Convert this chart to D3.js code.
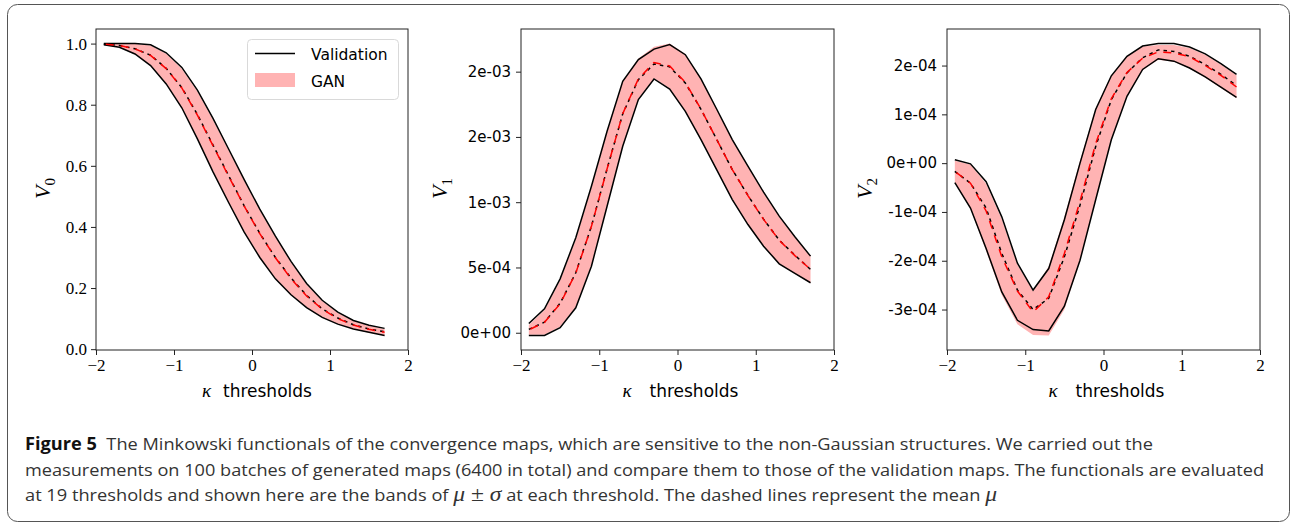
<!DOCTYPE html>
<html>
<head>
<meta charset="utf-8">
<script src="https://cdn.jsdelivr.net/npm/d3@7"></script>
<style>
  body { margin: 0; background: #fff; }
</style>
</head>
<body>
<div id="chart"></div>
<script>
// 19 kappa thresholds
var thresholds = [-1.9, -1.7, -1.5, -1.3, -1.1, -0.9, -0.7, -0.5, -0.3, -0.1, 0.1, 0.3, 0.5, 0.7, 0.9, 1.1, 1.3, 1.5, 1.7];

// V0 (area)
var v0_val_upper = [1.000, 1.000, 1.000, 0.996, 0.970, 0.922, 0.848, 0.755, 0.655, 0.555, 0.458, 0.370, 0.287, 0.215, 0.160, 0.121, 0.094, 0.078, 0.068];
var v0_val_lower = [0.996, 0.988, 0.966, 0.928, 0.868, 0.790, 0.688, 0.580, 0.480, 0.383, 0.300, 0.230, 0.178, 0.136, 0.104, 0.082, 0.066, 0.055, 0.045];
var v0_val_mean  = [0.998, 0.994, 0.983, 0.962, 0.919, 0.856, 0.768, 0.668, 0.568, 0.469, 0.379, 0.300, 0.233, 0.176, 0.132, 0.102, 0.080, 0.066, 0.057];
var v0_gan_upper = [1.000, 1.000, 0.999, 0.994, 0.967, 0.918, 0.843, 0.750, 0.651, 0.552, 0.455, 0.368, 0.284, 0.212, 0.158, 0.119, 0.092, 0.076, 0.066];
var v0_gan_lower = [0.997, 0.989, 0.967, 0.929, 0.870, 0.792, 0.690, 0.583, 0.482, 0.385, 0.302, 0.231, 0.178, 0.136, 0.104, 0.082, 0.066, 0.054, 0.045];
var v0_gan_mean  = [0.998, 0.994, 0.983, 0.961, 0.918, 0.855, 0.766, 0.666, 0.566, 0.468, 0.378, 0.299, 0.231, 0.174, 0.131, 0.100, 0.079, 0.065, 0.055];

// V1 (perimeter)
var v1_val_upper = [0.0000714, 0.000184, 0.000413, 0.000727, 0.001122, 0.001543, 0.001926, 0.002092, 0.002173, 0.002207, 0.002130, 0.001944, 0.001714, 0.001480, 0.001276, 0.001077, 0.000893, 0.000735, 0.000587];
var v1_val_lower = [-0.0000204, -0.0000204, 0.0000383, 0.000191, 0.000510, 0.000969, 0.001429, 0.001786, 0.001944, 0.001867, 0.001696, 0.001480, 0.001250, 0.001020, 0.000829, 0.000663, 0.000528, 0.000454, 0.000383];
var v1_val_mean  = [0.0000255, 0.0000816, 0.000226, 0.000459, 0.000816, 0.001256, 0.001677, 0.001939, 0.002059, 0.002037, 0.001913, 0.001712, 0.001482, 0.001250, 0.001052, 0.000870, 0.000710, 0.000594, 0.000485];
var v1_gan_upper = [0.0000600, 0.000175, 0.000400, 0.000715, 0.001110, 0.001535, 0.001925, 0.002100, 0.002190, 0.002215, 0.002135, 0.001945, 0.001712, 0.001478, 0.001272, 0.001072, 0.000888, 0.000730, 0.000590];
var v1_gan_lower = [-0.0000150, -0.0000150, 0.0000450, 0.000200, 0.000520, 0.000975, 0.001432, 0.001790, 0.001950, 0.001872, 0.001700, 0.001482, 0.001252, 0.001022, 0.000830, 0.000663, 0.000527, 0.000452, 0.000380];
var v1_gan_mean  = [0.0000220, 0.0000800, 0.000222, 0.000457, 0.000815, 0.001255, 0.001678, 0.001945, 0.002070, 0.002043, 0.001918, 0.001713, 0.001482, 0.001250, 0.001051, 0.000868, 0.000708, 0.000591, 0.000485];

// V2 (genus)
var v2_val_upper = [0.0000068, -0.0000014, -0.0000380, -0.000110, -0.000205, -0.000260, -0.000216, -0.000116, 0.0000000, 0.000110, 0.000179, 0.000219, 0.000240, 0.000245, 0.000245, 0.000238, 0.000224, 0.000204, 0.000182];
var v2_val_lower = [-0.0000397, -0.0000920, -0.000175, -0.000264, -0.000322, -0.000341, -0.000344, -0.000293, -0.000199, -0.0000750, 0.0000480, 0.000137, 0.000192, 0.000214, 0.000209, 0.000195, 0.000177, 0.000156, 0.000135];
var v2_val_mean  = [-0.0000170, -0.0000410, -0.0000920, -0.000185, -0.000260, -0.000300, -0.000277, -0.000192, -0.0000860, 0.0000340, 0.000130, 0.000185, 0.000216, 0.000232, 0.000229, 0.000219, 0.000202, 0.000182, 0.000159];
var v2_gan_upper = [0.0000050, -0.0000030, -0.0000420, -0.000115, -0.000208, -0.000262, -0.000212, -0.000110, 0.0000050, 0.000112, 0.000180, 0.000219, 0.000239, 0.000242, 0.000242, 0.000236, 0.000222, 0.000202, 0.000180];
var v2_gan_lower = [-0.0000400, -0.0000930, -0.000180, -0.000270, -0.000330, -0.000352, -0.000353, -0.000300, -0.000200, -0.0000740, 0.0000490, 0.000138, 0.000191, 0.000212, 0.000208, 0.000194, 0.000175, 0.000154, 0.000133];
var v2_gan_mean  = [-0.0000170, -0.0000410, -0.0000980, -0.000192, -0.000262, -0.000305, -0.000274, -0.000185, -0.0000780, 0.0000400, 0.000132, 0.000186, 0.000215, 0.000228, 0.000226, 0.000218, 0.000200, 0.000180, 0.000156];

var x_ticks = [-2, -1, 0, 1, 2];

var caption_lines = [
  "The Minkowski functionals of the convergence maps, which are sensitive to the non-Gaussian structures. We carried out the",
  "measurements on 100 batches of generated maps (6400 in total) and compare them to those of the validation maps. The functionals are evaluated",
  "at 19 thresholds and shown here are the bands of "
];

var width = 1291;
var height = 522;
var top_y = 29;
var bottom_y = 350;

var panels = [
  { sub: '0', left: 96, right: 408, label_x: 50, kappa_dx: -50, thr_dx: -29, tick_font: 'serif', ticks: 5,
    val: [v0_val_upper, v0_val_lower, v0_val_mean], gan: [v0_gan_upper, v0_gan_lower, v0_gan_mean] },
  { sub: '1', left: 521, right: 834, label_x: 447, kappa_dx: -55, thr_dx: -28, tick_font: 'sans', ticks: 5,
    val: [v1_val_upper, v1_val_lower, v1_val_mean], gan: [v1_gan_upper, v1_gan_lower, v1_gan_mean] },
  { sub: '2', left: 947, right: 1260, label_x: 872, kappa_dx: -55, thr_dx: -28, tick_font: 'sans', ticks: 6,
    val: [v2_val_upper, v2_val_lower, v2_val_mean], gan: [v2_gan_upper, v2_gan_lower, v2_gan_mean] }
];

var SERIF = "'Liberation Serif', 'DejaVu Serif', serif";
var SANS = "'DejaVu Sans', sans-serif";

// matplotlib style "%.0e" labels, e.g. 2e-03
function sciFormat(d) {
  if (Math.abs(d) < 1e-15) return '0e+00';
  var sign = d < 0 ? '-' : '';
  var a = Math.abs(d);
  var e = Math.floor(Math.log10(a) + 1e-9);
  var m = Math.round(a / Math.pow(10, e) + 1e-9);
  if (m >= 10) { m = 1; e += 1; }
  var es = (e < 0 ? '-' : '+') + String(Math.abs(e)).padStart(2, '0');
  return sign + m + 'e' + es;
}

function drawPanel(svg, p) {
  var all = p.val[0].concat(p.val[1], p.gan[0], p.gan[1]);
  var ext = d3.extent(all);
  var pad = (ext[1] - ext[0]) * 0.05;

  var x = d3.scaleLinear().domain([-2, 2]).range([p.left, p.right]);
  var y = d3.scaleLinear().domain([ext[0] - pad, ext[1] + pad]).range([bottom_y, top_y]);

  var g = svg.append('g');

  // GAN band
  var band = d3.area()
    .x(function(d, i) { return x(thresholds[i]); })
    .y0(function(d, i) { return y(p.gan[1][i]); })
    .y1(function(d) { return y(d); });
  g.append('path')
    .attr('d', band(p.gan[0]))
    .attr('fill', '#ffb3b3');

  var line = d3.line()
    .x(function(d, i) { return x(thresholds[i]); })
    .y(function(d) { return y(d); });

  // validation mu +- sigma
  [p.val[0], p.val[1]].forEach(function(arr) {
    g.append('path')
      .attr('d', line(arr))
      .attr('fill', 'none')
      .attr('stroke', '#000')
      .attr('stroke-width', 1.5);
  });

  // means: black short dashes under, red long dashes on top
  g.append('path')
    .attr('d', line(p.val[2]))
    .attr('fill', 'none')
    .attr('stroke', '#000')
    .attr('stroke-width', 1.5)
    .attr('stroke-dasharray', '3.5,4');
  g.append('path')
    .attr('d', line(p.gan[2]))
    .attr('fill', 'none')
    .attr('stroke', '#f00')
    .attr('stroke-width', 1.5)
    .attr('stroke-dasharray', '8,7')
    .attr('stroke-dashoffset', -2);

  // frame
  g.append('rect')
    .attr('x', p.left)
    .attr('y', top_y)
    .attr('width', p.right - p.left)
    .attr('height', bottom_y - top_y)
    .attr('fill', 'none')
    .attr('stroke', '#222')
    .attr('stroke-width', 1);

  var xAxis = d3.axisBottom(x)
    .tickValues(x_ticks)
    .tickSize(5)
    .tickPadding(4)
    .tickFormat(function(d) { return d < 0 ? '\u2212' + Math.abs(d) : String(d); });
  var xg = g.append('g').attr('transform', 'translate(0,' + bottom_y + ')').call(xAxis);

  var yAxis = d3.axisLeft(y)
    .ticks(p.ticks)
    .tickSize(5)
    .tickPadding(p.tick_font == 'serif' ? 4 : 5)
    .tickFormat(p.tick_font == 'serif' ? d3.format('.1f') : sciFormat);
  var yg = g.append('g').attr('transform', 'translate(' + p.left + ',0)').call(yAxis);

  [xg, yg].forEach(function(ax) {
    ax.select('.domain').remove();
    ax.selectAll('.tick line').attr('stroke', '#222');
    ax.selectAll('.tick text').attr('fill', '#000');
  });
  xg.selectAll('.tick text').style('font-family', SERIF).style('font-size', '17px');
  yg.selectAll('.tick text')
    .style('font-family', p.tick_font == 'serif' ? SERIF : SANS)
    .style('font-size', p.tick_font == 'serif' ? '17px' : '15px');

  // y label V_n
  var cy = (top_y + bottom_y) / 2;
  var yl = g.append('text')
    .attr('transform', 'translate(' + p.label_x + ',' + (cy - 1) + ') rotate(-90)')
    .attr('text-anchor', 'middle')
    .style('font-family', SERIF)
    .style('font-size', '22px');
  yl.append('tspan').style('font-style', 'italic').text('V');
  yl.append('tspan').attr('dy', 5).style('font-size', '15px').text(p.sub);

  // x label
  var cx = (p.left + p.right) / 2;
  g.append('text')
    .attr('x', cx + p.kappa_dx)
    .attr('y', 397)
    .style('font-family', SERIF)
    .style('font-style', 'italic')
    .style('font-size', '19px')
    .text('\u03ba');
  g.append('text')
    .attr('x', cx + p.thr_dx)
    .attr('y', 397)
    .style('font-family', SANS)
    .style('font-size', '17px')
    .text('thresholds');
}

function drawLegend(svg) {
  var lg = svg.append('g');
  lg.append('rect')
    .attr('x', 247.5).attr('y', 39.5)
    .attr('width', 151).attr('height', 60)
    .attr('rx', 4)
    .attr('fill', '#fff')
    .attr('fill-opacity', 0.8)
    .attr('stroke', '#d9d9d9');
  lg.append('line')
    .attr('x1', 255).attr('x2', 295)
    .attr('y1', 53.5).attr('y2', 53.5)
    .attr('stroke', '#000').attr('stroke-width', 1.5);
  lg.append('rect')
    .attr('x', 255).attr('y', 73)
    .attr('width', 40).attr('height', 14)
    .attr('fill', '#ffb3b3');
  lg.append('text').attr('x', 311).attr('y', 60)
    .style('font-family', SANS).style('font-size', '15.5px').text('Validation');
  lg.append('text').attr('x', 311).attr('y', 87)
    .style('font-family', SANS).style('font-size', '15.5px').text('GAN');
}

function drawCaption(svg) {
  var cap = svg.append('g')
    .style('font-family', "'Open Sans', 'Noto Sans', sans-serif")
    .style('font-size', '17px')
    .attr('fill', '#333');

  var l1 = cap.append('text').attr('x', 25).attr('y', 450)
    .attr('textLength', 1128).attr('lengthAdjust', 'spacingAndGlyphs');
  l1.append('tspan').style('font-weight', 'bold').attr('fill', '#111').text('Figure 5');
  l1.append('tspan').text('\u00a0 ' + caption_lines[0]);

  cap.append('text').attr('x', 25).attr('y', 476)
    .attr('textLength', 1239).attr('lengthAdjust', 'spacingAndGlyphs')
    .text(caption_lines[1]);

  var math = "'Liberation Serif', 'DejaVu Serif', serif";
  var l3 = cap.append('text').attr('x', 25).attr('y', 501);
  l3.append('tspan').text(caption_lines[2]);
  l3.append('tspan').style('font-family', math).style('font-style', 'italic').style('font-size', '22px').text('\u03bc');
  l3.append('tspan').style('font-family', math).style('font-size', '22px').text(' \u00b1 ');
  l3.append('tspan').style('font-family', math).style('font-style', 'italic').style('font-size', '22px').text('\u03c3');
  l3.append('tspan').text(' at each threshold. The dashed lines represent the mean ');
  l3.append('tspan').style('font-family', math).style('font-style', 'italic').style('font-size', '22px').text('\u03bc');
  l3.attr('textLength', 972).attr('lengthAdjust', 'spacingAndGlyphs');
}

function createVis() {
  var svg = d3.select('#chart')
    .append('svg')
    .attr('width', width)
    .attr('height', height);

  svg.append('rect').attr('width', width).attr('height', height).attr('fill', '#fff');

  // rounded figure frame
  svg.append('rect')
    .attr('x', 7.5).attr('y', 4.5)
    .attr('width', 1282).attr('height', 517)
    .attr('rx', 10)
    .attr('fill', 'none')
    .attr('stroke', '#555');

  panels.forEach(function(p) { drawPanel(svg, p); });
  drawLegend(svg);
  drawCaption(svg);
}

createVis();
</script>
</body>
</html>
